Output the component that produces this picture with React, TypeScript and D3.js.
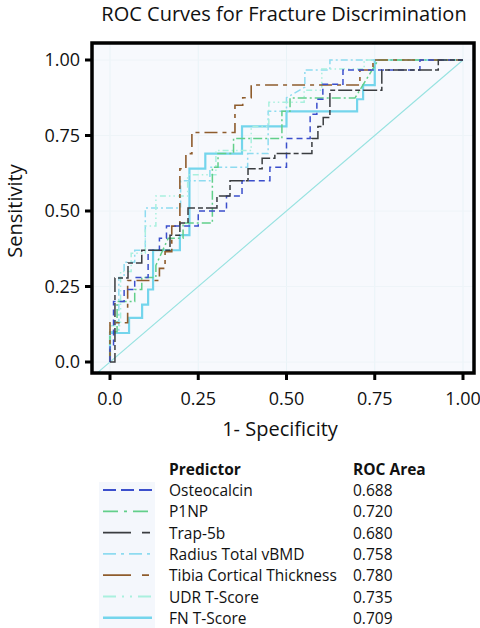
import React from "react";
import * as d3 from "d3";

// ---------- data ----------
const chartTitle = "ROC Curves for Fracture Discrimination";
const xAxisTitle = "1- Specificity";
const yAxisTitle = "Sensitivity";
const tickValues = [0, 0.25, 0.5, 0.75, 1];
const xTickLabels = ["0.0", "0.25", "0.50", "0.75", "1.00"];
const yTickLabels = ["0.0", "0.25", "0.50", "0.75", "1.00"];

const predictors = [
  "Osteocalcin",
  "P1NP",
  "Trap-5b",
  "Radius Total vBMD",
  "Tibia Cortical Thickness",
  "UDR T-Score",
  "FN T-Score",
];
const rocAreas = ["0.688", "0.720", "0.680", "0.758", "0.780", "0.735", "0.709"];

// ROC curve vertices: [1 - specificity, sensitivity]
const osteocalcin: [number, number][] = [
  [0, 0], [0, 0.05], [0.01, 0.05], [0.01, 0.2], [0.04, 0.2], [0.04, 0.24], [0.07, 0.24],
  [0.07, 0.28], [0.108, 0.28], [0.108, 0.37], [0.14, 0.37], [0.14, 0.41], [0.16, 0.41],
  [0.16, 0.45], [0.25, 0.45], [0.25, 0.5], [0.33, 0.5], [0.33, 0.55], [0.374, 0.55],
  [0.374, 0.6], [0.453, 0.6], [0.453, 0.645], [0.5, 0.645], [0.5, 0.74], [0.567, 0.74],
  [0.567, 0.82], [0.586, 0.82], [0.586, 0.87], [0.603, 0.87], [0.603, 0.92], [0.66, 0.92],
  [0.66, 0.967], [0.878, 0.967], [0.878, 1], [1, 1],
];
const p1np: [number, number][] = [
  [0, 0], [0, 0.1], [0.02, 0.1], [0.02, 0.2], [0.07, 0.2], [0.07, 0.24], [0.09, 0.24],
  [0.09, 0.28], [0.13, 0.28], [0.13, 0.32], [0.165, 0.41], [0.207, 0.41], [0.207, 0.46],
  [0.29, 0.46], [0.29, 0.645], [0.306, 0.645], [0.306, 0.69], [0.35, 0.69], [0.35, 0.74],
  [0.487, 0.74], [0.487, 0.83], [0.51, 0.83], [0.51, 0.874], [0.694, 0.874], [0.76, 1], [1, 1],
];
const trap5b: [number, number][] = [
  [0, 0], [0.014, 0], [0.014, 0.278], [0.051, 0.278], [0.051, 0.328], [0.09, 0.328],
  [0.09, 0.37], [0.17, 0.37], [0.17, 0.42], [0.198, 0.42], [0.198, 0.46], [0.221, 0.46],
  [0.221, 0.51], [0.303, 0.51], [0.303, 0.55], [0.34, 0.55], [0.34, 0.6], [0.391, 0.6],
  [0.391, 0.64], [0.431, 0.64], [0.431, 0.675], [0.467, 0.675], [0.467, 0.69], [0.572, 0.69],
  [0.572, 0.74], [0.589, 0.74], [0.589, 0.78], [0.604, 0.78], [0.604, 0.81], [0.623, 0.81],
  [0.623, 0.9], [0.77, 0.9], [0.77, 0.967], [0.93, 0.967], [0.93, 1], [1, 1],
];
const radiusVbmd: [number, number][] = [
  [0, 0], [0, 0.1], [0.025, 0.1], [0.025, 0.28], [0.04, 0.28], [0.04, 0.33], [0.07, 0.33],
  [0.07, 0.37], [0.1, 0.37], [0.1, 0.51], [0.2, 0.51], [0.2, 0.6], [0.283, 0.6], [0.283, 0.645],
  [0.39, 0.645], [0.39, 0.69], [0.448, 0.69], [0.448, 0.83], [0.5, 0.83], [0.5, 0.875],
  [0.552, 0.91], [0.552, 0.967], [0.623, 0.967], [0.623, 1], [1, 1],
];
const tibiaThickness: [number, number][] = [
  [0, 0], [0, 0.13], [0.05, 0.13], [0.05, 0.27], [0.14, 0.27], [0.14, 0.31], [0.156, 0.31],
  [0.156, 0.365], [0.175, 0.365], [0.175, 0.45], [0.198, 0.45], [0.198, 0.64], [0.215, 0.64],
  [0.215, 0.69], [0.232, 0.69], [0.232, 0.76], [0.354, 0.76], [0.354, 0.85], [0.376, 0.85],
  [0.376, 0.875], [0.4, 0.875], [0.4, 0.917], [0.708, 0.917], [0.708, 0.967], [0.745, 0.967],
  [0.745, 1], [1, 1],
];
const udrTScore: [number, number][] = [
  [0, 0], [0, 0.12], [0.03, 0.12], [0.03, 0.3], [0.06, 0.3], [0.06, 0.36], [0.1, 0.36],
  [0.1, 0.45], [0.13, 0.45], [0.13, 0.55], [0.22, 0.55], [0.22, 0.62], [0.3, 0.62], [0.3, 0.7],
  [0.4, 0.7], [0.4, 0.78], [0.45, 0.78], [0.45, 0.86], [0.55, 0.86], [0.55, 0.9], [0.6, 0.9],
  [0.6, 0.97], [0.72, 0.97], [0.72, 1], [1, 1],
];
const fnTScore: [number, number][] = [
  [0, 0], [0, 0.096], [0.054, 0.096], [0.054, 0.146], [0.091, 0.146], [0.091, 0.19],
  [0.108, 0.19], [0.108, 0.24], [0.122, 0.24], [0.122, 0.37], [0.198, 0.37], [0.198, 0.42],
  [0.225, 0.42], [0.225, 0.64], [0.27, 0.64], [0.27, 0.69], [0.374, 0.69], [0.374, 0.78],
  [0.5, 0.78], [0.5, 0.83], [0.7, 0.83], [0.7, 0.87], [0.717, 0.87], [0.717, 0.917],
  [0.75, 0.917], [0.75, 1], [1, 1],
];
const referenceLine: [number, number][] = [[-0.045, -0.045], [1, 1]];

const seriesData = [osteocalcin, p1np, trap5b, radiusVbmd, tibiaThickness, udrTScore, fnTScore];

// ---------- styles ----------
const colors = ["#3b4fcc", "#62cf8a", "#3a3d40", "#8edbf0", "#8e5c2c", "#a9f0de", "#74d5ec"];
const plotDash = ["6,4", "9,3,2,3", "14,3,5,3", "7,3,2,3", "13,5,4,5", "6,3,1.5,3,1.5,3", ""];
const legendDash = ["13,5", "15,6,3,6", "28,11,8,4", "13,5,3,5", "28,11,7,4", "13,6,2,6,2,6", ""];
const widths = [1.5, 1.5, 1.5, 1.5, 1.6, 1.5, 2.2];
const drawOrder = [6, 3, 5, 1, 4, 0, 2];

const FONT = "'Open Sans', 'Noto Sans', sans-serif";

export default function App() {
  const W = 480;
  const H = 628;
  const frame = { left: 92, right: 474, top: 43, bottom: 373 };
  const x = d3.scaleLinear().domain([0, 1]).range([110, 463]);
  const y = d3.scaleLinear().domain([0, 1]).range([362, 60]);
  const line = d3
    .line<[number, number]>()
    .x((d) => x(d[0]))
    .y((d) => y(d[1]));

  const legendTop = 475;
  const rowH = 21.3;

  return (
    <svg
      width={W}
      height={H}
      viewBox={`0 0 ${W} ${H}`}
      style={{ position: "absolute", left: 0, top: 0, background: "#fff" }}
      fontFamily={FONT}
    >
      <defs>
        <clipPath id="plotClip">
          <rect
            x={frame.left}
            y={frame.top}
            width={frame.right - frame.left}
            height={frame.bottom - frame.top}
          />
        </clipPath>
      </defs>

      {/* title */}
      <text x={284} y={21} textAnchor="middle" fontSize={20} fill="#111">
        {chartTitle}
      </text>

      {/* plot background */}
      <rect
        x={frame.left}
        y={frame.top}
        width={frame.right - frame.left}
        height={frame.bottom - frame.top}
        fill="#f7f9fd"
      />
      {/* faint grid */}
      <g clipPath="url(#plotClip)">
        {tickValues.map((t, i) => (
          <line key={"gx" + i} x1={x(t)} x2={x(t)} y1={frame.top} y2={frame.bottom} stroke="#e9f3f7" strokeWidth={1} />
        ))}
        {tickValues.map((t, i) => (
          <line key={"gy" + i} x1={frame.left} x2={frame.right} y1={y(t)} y2={y(t)} stroke="#eef4f8" strokeWidth={1} />
        ))}
        <path d={line(referenceLine) || ""} fill="none" stroke="#96e2e0" strokeWidth={1.1} />
        {drawOrder.map((i) => (
          <path
            key={"s" + i}
            d={line(seriesData[i]) || ""}
            fill="none"
            stroke={colors[i]}
            strokeWidth={widths[i]}
            strokeDasharray={plotDash[i] || undefined}
            strokeLinejoin="miter"
          />
        ))}
      </g>

      {/* frame */}
      <rect
        x={frame.left}
        y={frame.top}
        width={frame.right - frame.left}
        height={frame.bottom - frame.top}
        fill="none"
        stroke="#000"
        strokeWidth={3.5}
      />

      {/* y ticks */}
      {tickValues.map((t, i) => (
        <g key={"yt" + i}>
          <line x1={frame.left - 7} x2={frame.left} y1={y(t)} y2={y(t)} stroke="#000" strokeWidth={3} />
          <text x={80} y={y(t)} dy="0.35em" textAnchor="end" fontSize={18} fill="#111">
            {yTickLabels[i]}
          </text>
        </g>
      ))}
      {/* x ticks */}
      {tickValues.map((t, i) => (
        <g key={"xt" + i}>
          <line x1={x(t)} x2={x(t)} y1={frame.bottom} y2={frame.bottom + 7} stroke="#000" strokeWidth={3} />
          <text x={x(t)} y={405} textAnchor="middle" fontSize={18} fill="#111">
            {xTickLabels[i]}
          </text>
        </g>
      ))}

      {/* axis titles */}
      <text x={280} y={436} textAnchor="middle" fontSize={20} fill="#111">
        {xAxisTitle}
      </text>
      <text
        transform={`translate(21.5,211) rotate(-90)`}
        textAnchor="middle"
        fontSize={20}
        fill="#111"
      >
        {yAxisTitle}
      </text>

      {/* legend */}
      <rect x={99} y={482} width={56} height={146} fill="#f4f7fc" />
      <text x={169} y={legendTop} fontSize={15.5} fontWeight="bold" fill="#111">
        Predictor
      </text>
      <text x={353} y={legendTop} fontSize={15.5} fontWeight="bold" fill="#111">
        ROC Area
      </text>
      {predictors.map((p, i) => {
        const by = legendTop + 21 + i * rowH;
        return (
          <g key={"lg" + i}>
            <line
              x1={103}
              x2={152}
              y1={by - 6}
              y2={by - 6}
              stroke={colors[i]}
              strokeWidth={i === 6 ? 2.5 : 1.8}
              strokeDasharray={legendDash[i] || undefined}
            />
            <text x={169} y={by} fontSize={15.5} fill="#111">
              {p}
            </text>
            <text x={353} y={by} fontSize={15.5} fill="#111">
              {rocAreas[i]}
            </text>
          </g>
        );
      })}
    </svg>
  );
}
